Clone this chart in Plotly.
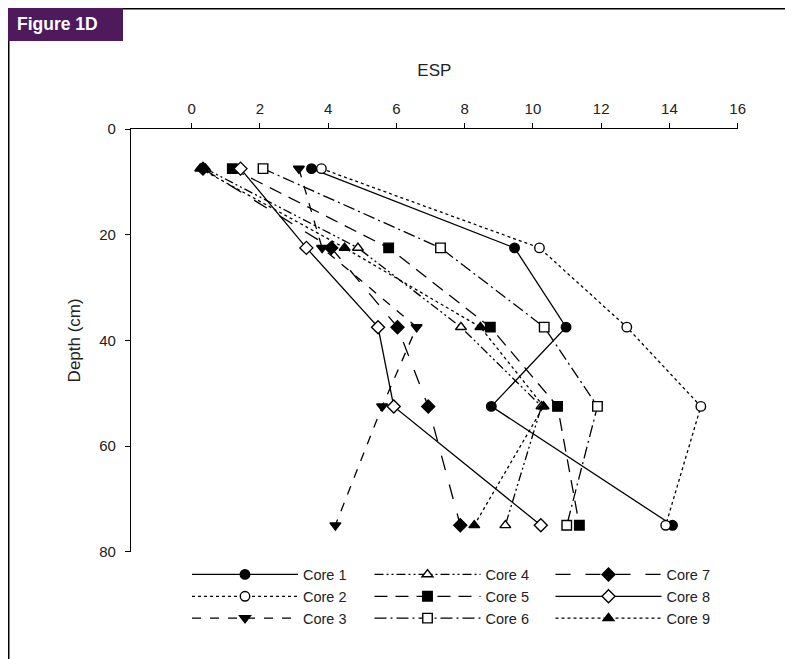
import plotly.graph_objects as go

# Browser body margin is 8px; figure is sized to fill the rest of the window.
OFF = 8
W, H = 793 - OFF, 659 - OFF

depth = [7.5, 22.5, 37.5, 52.5, 75]
core_names = ["Core 1", "Core 2", "Core 3", "Core 4", "Core 5",
              "Core 6", "Core 7", "Core 8", "Core 9"]
core1 = [3.51, 9.46, 10.97, 8.78, 14.09]
core2 = [3.80, 10.19, 12.75, 14.92, 13.89]
core3 = [3.14, 3.82, 6.59, 5.58, 4.21]
core4 = [0.40, 4.87, 7.89, 10.25, 9.19]
core5 = [1.19, 5.77, 8.75, 10.72, 11.36]
core6 = [2.09, 7.29, 10.33, 11.89, 10.99]
core7 = [0.33, 4.09, 6.03, 6.93, 7.87]
core8 = [1.43, 3.36, 5.46, 5.92, 10.23]
core9 = [0.25, 4.48, 8.46, 10.31, 8.28]
x_ticks = [0, 2, 4, 6, 8, 10, 12, 14, 16]
y_ticks = [0, 20, 40, 60, 80]

series = [core1, core2, core3, core4, core5, core6, core7, core8, core9]

styles = [
    dict(symbol="circle", fill="black", dash="solid"),
    dict(symbol="circle", fill="white", dash="dot"),
    dict(symbol="triangle-down", fill="black", dash="dash"),
    dict(symbol="triangle-up", fill="white", dash="9px,3px,2px,3px,2px,3px"),
    dict(symbol="square", fill="black", dash="13px,8px"),
    dict(symbol="square", fill="white", dash="12px,4px,2px,4px"),
    dict(symbol="diamond", fill="black", dash="longdash"),
    dict(symbol="diamond", fill="white", dash="solid"),
    dict(symbol="triangle-up", fill="black", dash="dot"),
]
legend_ids = ["legend", "legend", "legend", "legend2", "legend2", "legend2",
              "legend3", "legend3", "legend3"]

FONT = "Liberation Sans, Arial, sans-serif"
TXT = "#222222"

fig = go.Figure()
for name, vals, st, lg in zip(core_names, series, styles, legend_ids):
    fig.add_trace(go.Scatter(
        x=vals, y=depth, name=name, mode="lines+markers",
        line=dict(color="black", width=1.3, dash=st["dash"]),
        marker=dict(symbol=st["symbol"], size=10 if "diamond" in st["symbol"] else 9.5,
                    color=st["fill"], line=dict(color="black", width=1.4)),
        legend=lg,
    ))


def px_x(p):
    return (p - OFF) / W


def px_y(p):
    return 1 - (p - OFF) / H


x0, x1 = 131, 737.7
y0, y1 = 129, 551.7


def legend_cfg(xpx):
    return dict(
        x=px_x(xpx), y=px_y(596.5), xanchor="left", yanchor="middle",
        orientation="v", itemwidth=106, font=dict(family=FONT, size=14.5, color=TXT),
        bgcolor="rgba(0,0,0,0)", borderwidth=0, itemclick=False,
    )


fig.update_layout(
    width=W, height=H,
    margin=dict(l=0, r=0, t=0, b=0),
    paper_bgcolor="white", plot_bgcolor="white",
    font=dict(family=FONT, size=15, color=TXT),
    showlegend=True,
    legend=legend_cfg(187),
    legend2=legend_cfg(369.5),
    legend3=legend_cfg(550.5),
    xaxis=dict(
        domain=[px_x(x0), px_x(x1)], range=[-1.78, 16], side="top",
        tickvals=x_ticks, ticks="outside", ticklen=5, tickwidth=1.3, tickcolor="black",
        showline=True, linecolor="black", linewidth=1.3, showgrid=False, zeroline=False,
        tickfont=dict(family=FONT, size=15, color=TXT), ticklabelstandoff=3,
        title=dict(text="ESP", font=dict(family=FONT, size=17, color=TXT), standoff=18),
        anchor="y", automargin=False,
    ),
    yaxis=dict(
        domain=[px_y(y1), px_y(y0)], range=[80, 0],
        tickvals=y_ticks, ticks="outside", ticklen=5, tickwidth=1.3, tickcolor="black",
        showline=True, linecolor="black", linewidth=1.3, showgrid=False, zeroline=False,
        tickfont=dict(family=FONT, size=15, color=TXT), ticklabelstandoff=6,
        title=dict(text="Depth (cm)", font=dict(family=FONT, size=17, color=TXT), standoff=14),
        anchor="x", automargin=False,
    ),
)

# frame lines and header badge
fig.add_shape(type="line", xref="paper", yref="paper",
              x0=0.5 / W, x1=1, y0=1 - 0.75 / H, y1=1 - 0.75 / H,
              line=dict(color="black", width=1.5))
fig.add_shape(type="line", xref="paper", yref="paper",
              x0=0.75 / W, x1=0.75 / W, y0=1, y1=0,
              line=dict(color="black", width=1.5))
fig.add_shape(type="rect", xref="paper", yref="paper",
              x0=0, x1=px_x(123), y0=px_y(41), y1=1,
              fillcolor="#4E1A5C", line=dict(width=0))
fig.add_annotation(text="<b>Figure 1D</b>", xref="paper", yref="paper",
                   x=px_x(15), y=px_y(24), xanchor="left", yanchor="middle",
                   showarrow=False, font=dict(family=FONT, size=17.5, color="white"))

fig.write_html("out.html")
